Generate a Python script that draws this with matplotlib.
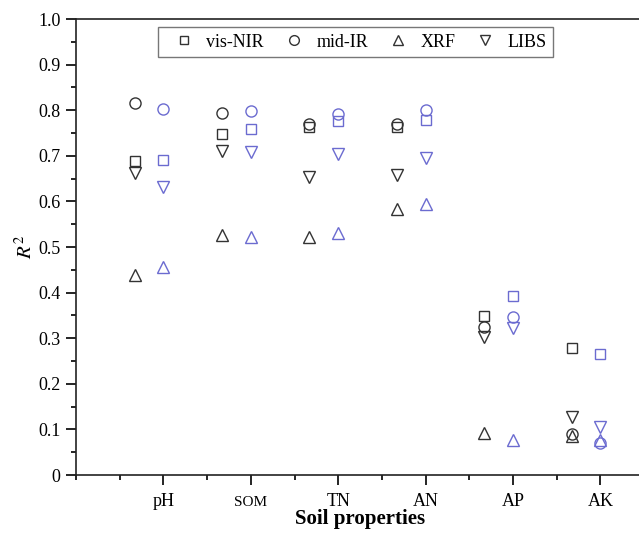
import matplotlib
matplotlib.use("Agg")
import matplotlib.pyplot as plt
import numpy as np
from matplotlib.ticker import MultipleLocator
from matplotlib.lines import Line2D

plt.rcParams['font.family'] = ['Liberation Serif', 'DejaVu Serif']
plt.rcParams['mathtext.fontset'] = 'stix'

properties = ["pH", "SOM", "TN", "AN", "AP", "AK"]
methods = ["vis-NIR", "mid-IR", "XRF", "LIBS"]
markers = ["s", "o", "^", "v"]

# Black (left) group
black_visnir = [0.689, 0.748, 0.763, 0.763, 0.349, 0.278]
black_midir  = [0.816, 0.794, 0.770, 0.770, 0.325, 0.090]
black_xrf    = [0.439, 0.526, 0.521, 0.583, 0.092, 0.086]
black_libs   = [0.662, 0.711, 0.653, 0.658, 0.303, 0.127]

# Blue (right) group
blue_visnir = [0.691, 0.759, 0.777, 0.778, 0.393, 0.265]
blue_midir  = [0.802, 0.798, 0.791, 0.800, 0.346, 0.070]
blue_xrf    = [0.457, 0.521, 0.531, 0.594, 0.077, 0.077]
blue_libs   = [0.632, 0.709, 0.703, 0.695, 0.323, 0.105]

black_sets = [black_visnir, black_midir, black_xrf, black_libs]
blue_sets = [blue_visnir, blue_midir, blue_xrf, blue_libs]

black_col = "#333333"
blue_col = "#6b6bd0"
sizes = {"s": 7, "o": 8, "^": 8.5, "v": 8.5}

fig = plt.figure(figsize=(6.39, 5.38), dpi=100)
ax = fig.add_axes([76/639, 1-475/538, 1-76/639, (475-19)/538])

x = np.arange(1, len(properties)+1)
off = 0.33
for vals, m in zip(black_sets, markers):
    ax.plot(x - off, vals, linestyle='none', marker=m, markersize=sizes[m],
            markerfacecolor='none', markeredgecolor=black_col, markeredgewidth=1.0)
for vals, m in zip(blue_sets, markers):
    ax.plot(x, vals, linestyle='none', marker=m, markersize=sizes[m],
            markerfacecolor='none', markeredgecolor=blue_col, markeredgewidth=1.0)

ax.set_xlim(0, (639-76)/87.4)
ax.set_ylim(0, 1.0)
ax.set_xticks(x)
ax.set_xticklabels(properties)
for lbl in ax.get_xticklabels():
    lbl.set_verticalalignment('baseline')
    if lbl.get_text() == "SOM":
        lbl.set_fontsize(11)
    else:
        lbl.set_fontsize(13)
ax.xaxis.set_minor_locator(MultipleLocator(0.5))
ax.yaxis.set_minor_locator(MultipleLocator(0.05))
ax.set_yticks(np.arange(0, 1.01, 0.1))
ax.set_yticklabels(["0"] + [f"{v:.1f}" for v in np.arange(0.1, 1.01, 0.1)], fontsize=13)

ax.tick_params(which='major', direction='out', length=7, width=1.2, pad=4)
ax.tick_params(which='minor', direction='out', length=3.5, width=1.2)
ax.tick_params(axis='x', which='major', pad=15)
for s in ['left', 'bottom', 'top']:
    ax.spines[s].set_linewidth(1.2)
    ax.spines[s].set_color('#222222')
ax.spines['right'].set_visible(False)

ax.set_xlabel("Soil properties", fontsize=15, fontweight='bold', va='top')
ax.xaxis.set_label_coords(0.505, -0.075)
ax.set_ylabel("$R^2$", fontsize=15, labelpad=1)

handles = [Line2D([], [], linestyle='none', marker=m, markersize=sizes[m] - 1,
                  markerfacecolor='none', markeredgecolor=black_col, markeredgewidth=1.0)
           for m in markers]
leg = ax.legend(handles, methods, loc='upper center', bbox_to_anchor=(0.497, 0.982),
                ncol=4, fontsize=13, frameon=True, fancybox=False, edgecolor='#555555',
                handlelength=2.1, handletextpad=0.2, columnspacing=0.6, borderpad=0.35,
                borderaxespad=0)
leg.get_frame().set_linewidth(1.0)

fig.savefig("out.png", dpi=100)
